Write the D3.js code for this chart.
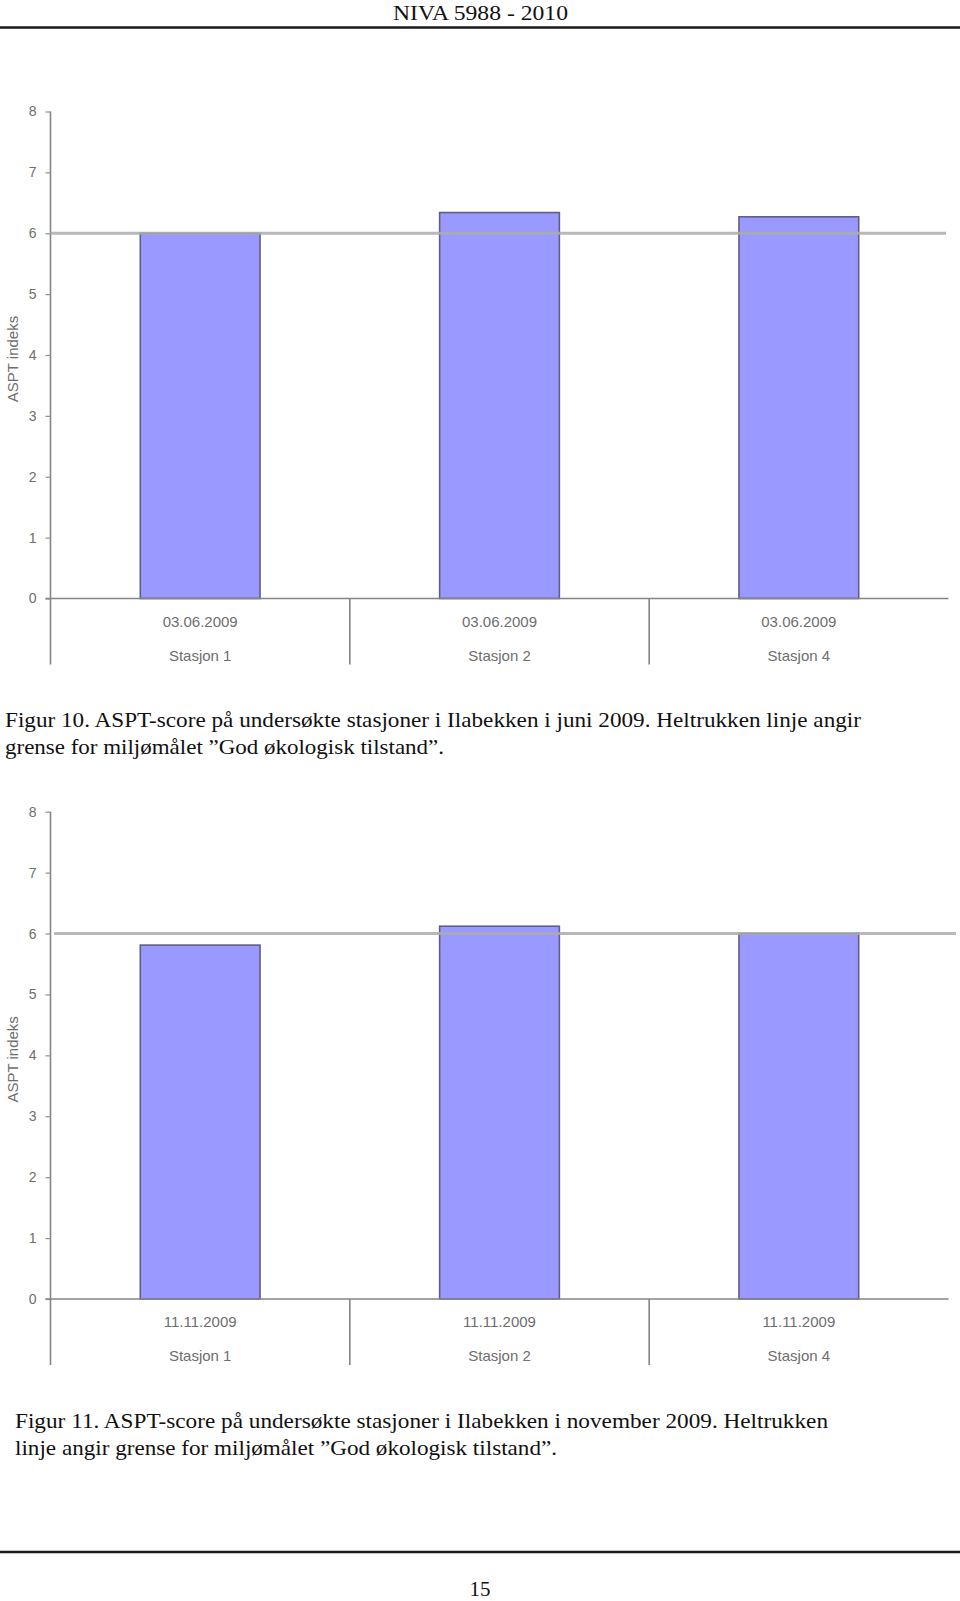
<!DOCTYPE html>
<html>
<head>
<meta charset="utf-8">
<script src="https://cdn.jsdelivr.net/npm/d3@7"></script>
<style>
  html, body { margin: 0; padding: 0; background: #fff; }
  svg { display: block; }
</style>
</head>
<body>
<div id="page"></div>
<script>
// ---- data ----
const stations = ["Stasjon 1", "Stasjon 2", "Stasjon 4"];
const datesJune = ["03.06.2009", "03.06.2009", "03.06.2009"];
const datesNov = ["11.11.2009", "11.11.2009", "11.11.2009"];
const asptJune = [6.0, 6.34, 6.27];
const asptNov = [5.81, 6.12, 6.0];
const yTicks = [0, 1, 2, 3, 4, 5, 6, 7, 8];
const goodStatusLimit = 6;
const yTitle = "ASPT indeks";
const headerText = "NIVA 5988 - 2010";
const caption1 = [
  "Figur 10. ASPT-score på undersøkte stasjoner i Ilabekken i juni 2009. Heltrukken linje angir",
  "grense for miljømålet ”God økologisk tilstand”."
];
const caption2 = [
  "Figur 11. ASPT-score på undersøkte stasjoner i Ilabekken i november 2009. Heltrukken",
  "linje angir grense for miljømålet ”God økologisk tilstand”."
];
const pageNumber = "15";

// ---- drawing ----
const W = 960, H = 1601;
const svg = d3.select("#page").append("svg").attr("width", W).attr("height", H);

const serif = "'Liberation Serif', 'Times New Roman', serif";
const sans = "'Liberation Sans', Arial, sans-serif";
const gray = "#6e6e6e";

// header
svg.append("text").attr("x", 393).attr("y", 20)
  .attr("font-family", serif).attr("font-size", 21).attr("fill", "#111")
  .attr("textLength", 175).attr("lengthAdjust", "spacingAndGlyphs")
  .text(headerText);
svg.append("line").attr("x1", 0).attr("x2", W).attr("y1", 27.5).attr("y2", 27.5)
  .attr("stroke", "#1a1a1a").attr("stroke-width", 2.5);

// footer
svg.append("line").attr("x1", 0).attr("x2", W).attr("y1", 1552).attr("y2", 1552)
  .attr("stroke", "#1a1a1a").attr("stroke-width", 2.5);
svg.append("text").attr("x", 480).attr("y", 1596).attr("text-anchor", "middle")
  .attr("font-family", serif).attr("font-size", 21).attr("fill", "#111")
  .text(pageNumber);

function drawChart(cfg) {
  const g = svg.append("g");
  const x = d3.scaleBand().domain(stations).range([cfg.x0, cfg.x1]).paddingInner(0).paddingOuter(0);
  const y = d3.scaleLinear().domain([0, 8]).range([cfg.yBottom, cfg.yTop]);
  const barW = x.bandwidth() * 0.4;

  // y axis
  const yAxis = d3.axisLeft(y).tickValues(yTicks).tickSize(5).tickPadding(9).tickFormat(d3.format("d"));
  const ya = g.append("g").attr("transform", `translate(${cfg.x0},0)`).call(yAxis);
  ya.select(".domain").attr("stroke", "#858585").attr("stroke-width", 1.6)
    .attr("d", `M0,${y(8)}V${y(0)}`);
  ya.selectAll(".tick line").attr("stroke", "#909090").attr("stroke-width", 1.2);
  ya.selectAll(".tick text").attr("font-family", sans).attr("font-size", 14).attr("fill", gray);

  // y title
  g.append("text")
    .attr("transform", `translate(${cfg.titleX},${(y(0) + y(8)) / 2 + 4}) rotate(-90)`)
    .attr("text-anchor", "middle").attr("font-family", sans).attr("font-size", 15)
    .attr("fill", gray).text(yTitle);

  // bars
  g.selectAll("rect.bar").data(cfg.values).join("rect").attr("class", "bar")
    .attr("x", (d, i) => x(stations[i]) + (x.bandwidth() - barW) / 2)
    .attr("width", barW)
    .attr("y", d => y(d))
    .attr("height", d => y(0) - y(d))
    .attr("fill", "#9999ff")
    .attr("stroke", "#5f5f86").attr("stroke-width", 1.6);

  // reference line (good status limit)
  g.append("line").attr("x1", cfg.refX0).attr("x2", cfg.refX1)
    .attr("y1", y(goodStatusLimit)).attr("y2", y(goodStatusLimit))
    .attr("stroke", "#acacac").attr("stroke-width", 3).attr("stroke-opacity", 0.85);

  // x baseline
  g.append("line").attr("x1", cfg.x0 - 5).attr("x2", cfg.x1)
    .attr("y1", y(0)).attr("y2", y(0)).attr("stroke", "#858585").attr("stroke-width", 1.6);

  // category dividers
  const divs = [cfg.x0].concat(stations.slice(1).map(s => x(s)));
  g.selectAll("line.div").data(divs).join("line").attr("class", "div")
    .attr("x1", d => d).attr("x2", d => d)
    .attr("y1", y(0)).attr("y2", y(0) + cfg.divLen)
    .attr("stroke", "#858585").attr("stroke-width", 1.6);

  // category labels
  g.selectAll("text.date").data(cfg.dates).join("text").attr("class", "date")
    .attr("x", (d, i) => x(stations[i]) + x.bandwidth() / 2)
    .attr("y", y(0) + 28)
    .attr("text-anchor", "middle").attr("font-family", sans).attr("font-size", 15)
    .attr("fill", gray).text(d => d);
  g.selectAll("text.stn").data(stations).join("text").attr("class", "stn")
    .attr("x", d => x(d) + x.bandwidth() / 2)
    .attr("y", y(0) + 62)
    .attr("text-anchor", "middle").attr("font-family", sans).attr("font-size", 15)
    .attr("fill", gray).text(d => d);
}

drawChart({ x0: 50.5, x1: 948.5, yTop: 111.5, yBottom: 598.5, values: asptJune, dates: datesJune,
  refX0: 50.5, refX1: 946, divLen: 66, titleX: 18 });
drawChart({ x0: 50.5, x1: 948.5, yTop: 811.7, yBottom: 1299, values: asptNov, dates: datesNov,
  refX0: 54, refX1: 956, divLen: 66, titleX: 18 });

function caption(lines, x, y0, size, lengths) {
  lines.forEach((t, i) => {
    svg.append("text").attr("x", x).attr("y", y0 + i * 26.5)
      .attr("font-family", serif).attr("font-size", size).attr("fill", "#111")
      .attr("textLength", lengths[i]).attr("lengthAdjust", "spacingAndGlyphs")
      .text(t);
  });
}
caption(caption1, 5, 727, 21, [856, 439]);
caption(caption2, 15, 1428, 21.5, [813, 542]);
</script>
</body>
</html>
